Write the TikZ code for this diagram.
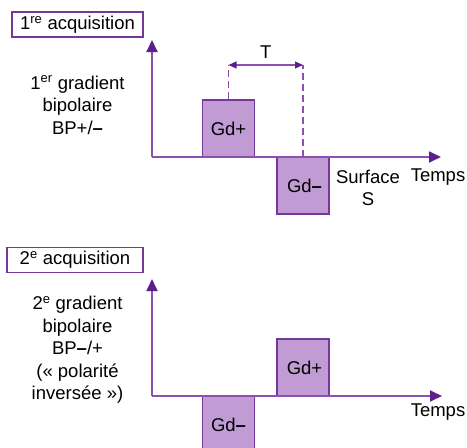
\documentclass[tikz,border=0pt]{standalone}
\usepackage{fontspec}
\setmainfont{Liberation Sans}
\usepackage{tikz}
\usepackage{xcolor}
\usetikzlibrary{arrows.meta,positioning,calc}
\definecolor{gradline}{HTML}{8E4FB0}
\definecolor{gradtip}{HTML}{5E1F8C}
\definecolor{gradfill}{HTML}{C09BD4}
\definecolor{gradedge}{HTML}{74389A}
\tikzset{
  axis/.style={-{Triangle[length=12pt,width=11pt,color=gradtip]}, line width=1.8pt, draw=gradline},
  pulse/.style={draw=gradedge, fill=gradfill, line width=1.4pt, minimum width=52pt, minimum height=57pt, inner sep=0pt},
  tag/.style={draw=gradedge, line width=1.2pt, minimum height=25pt, inner sep=0pt},
  guide/.style={draw=gradline, line width=1.1pt, dash pattern=on 7pt off 4pt},
  span/.style={{Triangle[length=8pt,width=7pt,color=gradtip]}-{Triangle[length=8pt,width=7pt,color=gradtip]}, line width=1.2pt, draw=gradline},
  info/.style={font=\fontsize{18.5}{22.5}\selectfont, align=center, inner sep=0pt}
}

\begin{document}
\begin{tikzpicture}[x=1pt, y=-1pt]
  \useasboundingbox (0,0) rectangle (467,448);
  \clip (0,0) rectangle (467,448);
  % first acquisition
  \node[tag, info, minimum width=131pt] (acqA) at (77.5,24.5) {1\textsuperscript{re} acquisition};
  \node[info] (bpA) at (77.5,105) {1\textsuperscript{er} gradient\\bipolaire\\BP+/\textbf{–}};
  \coordinate (oA) at (152,157);
  \coordinate (yA) at (152,40);
  \coordinate (xA) at (441,157);
  \node[pulse, info] (gdpA) at (228.5,128.5) {Gd+};
  \node[pulse, info] (gdmA) at (303,185.5) {\hspace*{3pt}Gd\textbf{–}};
  \draw[axis] (oA) -- (yA);
  \draw[axis] (oA) -- (xA);
  \coordinate (tA) at (gdpA.center |- 0,65);
  \coordinate (tB) at (gdmA.center |- 0,65);
  \draw[guide] (gdpA.north) -- (tA);
  \draw[guide] (gdmA.center |- oA) -- (tB);
  \draw[span] (tA) -- node[info, above=6pt] (per) {T} (tB);
  \node[info] (surf) at (368,188) {Surface\\S};
  \node[info] (tpsA) at (438,177) {Temps};
  % second acquisition
  \node[tag, info, minimum width=136pt] (acqB) at (75,260) {2\textsuperscript{e} acquisition};
  \node[info] (bpB) at (77.5,350) {2\textsuperscript{e} gradient\\bipolaire\\BP\textbf{–}/+\\(«~polarité\\inversée~»)};
  \coordinate (oB) at (152,396);
  \coordinate (yB) at (152,279);
  \coordinate (xB) at (442,396);
  \node[pulse, info] (gdpB) at (303,367.5) {\hspace*{3pt}Gd+};
  \node[pulse, info] (gdmB) at (228.5,424.5) {Gd\textbf{–}};
  \draw[axis] (oB) -- (yB);
  \draw[axis] (oB) -- (xB);
  \node[info] (tpsB) at (438,412) {Temps};
\end{tikzpicture}
\end{document}
